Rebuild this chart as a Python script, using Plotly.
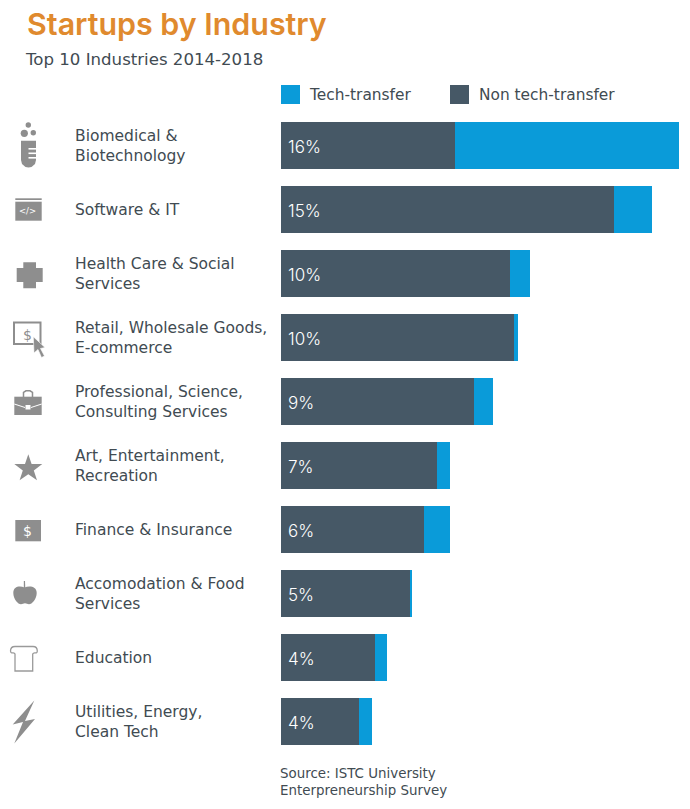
import plotly.graph_objects as go

categories = ["Biomedical &<br>Biotechnology", "Software & IT", "Health Care & Social<br>Services",
              "Retail, Wholesale Goods,<br>E-commerce", "Professional, Science,<br>Consulting Services",
              "Art, Entertainment,<br>Recreation", "Finance & Insurance", "Accomodation & Food<br>Services",
              "Education", "Utilities, Energy,<br>Clean Tech"]
non_tech_transfer = [7.0, 13.4, 9.2, 9.37, 7.75, 6.27, 5.75, 5.18, 3.78, 3.15]
tech_transfer = [9.0, 1.52, 0.8, 0.16, 0.77, 0.52, 1.05, 0.09, 0.48, 0.5]
share_labels = ["16%", "15%", "10%", "10%", "9%", "7%", "6%", "5%", "4%", "4%"]

W, H = 690, 809
FONT = "DejaVu Sans"
DARK, BLUE, ICON, TEXT = "#465866", "#0A9BD9", "#8E8E8E", "#414B52"
def px(x): return x / W
def py(y): return 1 - y / H

fig = go.Figure()
fig.add_bar(y=categories, x=non_tech_transfer, orientation="h", marker=dict(color=DARK, line_width=0), name="Non tech-transfer")
fig.add_bar(y=categories, x=tech_transfer, orientation="h", marker=dict(color=BLUE, line_width=0), name="Tech-transfer")

ann = []
def text(x, y, s, size, color=TEXT, anchor="left", family=FONT, weight=None):
    f = dict(family=family, size=size, color=color)
    if weight: f["weight"] = weight
    ann.append(dict(x=px(x), y=py(y), xref="paper", yref="paper", text=s, showarrow=False, xanchor=anchor, yanchor="middle",
                    align="left", font=f, borderpad=0))

text(25.5, 24, "Startups by Industry", 30.4, "#E08A2E", family="Inter", weight=600)
text(23.5, 60, "Top 10 Industries 2014-2018", 16.6)
text(307.5, 95, "Tech-transfer", 15.4)
text(477.5, 95, "Non tech-transfer", 15.4)
text(279, 782, "Source: ISTC University<br>Enterpreneurship Survey", 13.4)
for c, s in zip(categories, share_labels):
    ann.append(dict(x=px(74), y=c, xref="paper", yref="y", text=c, showarrow=False, xanchor="left", yanchor="middle", align="left",
                    borderpad=0, yshift=-0.5, font=dict(family=FONT, size=15.5, color=TEXT)))
    ann.append(dict(x=0, y=c, xref="x", yref="y", text=s, showarrow=False, xanchor="left", xshift=5, yshift=-2, yanchor="middle",
                    font=dict(family="Inter", size=17, color="#FFFFFF", weight=300)))
# glyphs inside icons
text(28, 211, "&lt;/&gt;", 8.5, "#FFFFFF", "center")
text(27, 335, "$", 14, ICON, "center")
text(28, 530.5, "$", 14, "#FFFFFF", "center")

shapes = []
def path(d, fill=ICON, line=None, lw=0):
    shapes.append(dict(type="path", xref="paper", yref="paper", path=d, fillcolor=fill, line=dict(color=line or fill, width=lw), layer="above"))
def poly(pts, **kw):
    path("M " + " L ".join(f"{px(x):.5f},{py(y):.5f}" for x, y in pts) + " Z", **kw)
def rect(x0, y0, x1, y1, fill=ICON, line=None, lw=0):
    shapes.append(dict(type="rect", xref="paper", yref="paper", x0=px(x0), x1=px(x1), y0=py(y0), y1=py(y1),
                       fillcolor=fill, line=dict(color=line or fill, width=lw), layer="above"))
def circle(cx, cy, r, fill=ICON):
    shapes.append(dict(type="circle", xref="paper", yref="paper", x0=px(cx-r), x1=px(cx+r), y0=py(cy-r), y1=py(cy+r),
                       fillcolor=fill, line_width=0, layer="above"))

# legend swatches
rect(281, 85, 300, 104, BLUE)
rect(450, 85, 469, 104, DARK)
# test tube
circle(28.3, 125, 2.7); circle(24.3, 133.3, 3.6); circle(33.3, 132.8, 2.7)
poly([(21, 140.7), (36, 140.7), (36, 160), (35, 164), (31.5, 167), (28.5, 167.5), (25.5, 167), (22, 164), (21, 160)])
for y in (148, 152.5, 157): rect(28.5, y, 36, y + 1.6, "#FFFFFF")
# window
rect(15.3, 198.3, 41.7, 200); rect(15.3, 201.7, 41.7, 220.7)
# cross
poly([(23.3, 262.3), (36, 262.3), (36, 268), (42.7, 268), (42.7, 282), (36, 282), (36, 288.3), (23.3, 288.3), (23.3, 282), (16.7, 282), (16.7, 268), (23.3, 268)])
# screen and cursor
rect(14, 322.5, 40.5, 344, "rgba(0,0,0,0)", ICON, 2)
poly([(33.3, 336.7), (45, 347.5), (40.5, 348.5), (44.5, 356), (41.5, 357.5), (38, 349.5), (34, 353)], line="#FFFFFF", lw=0.6)
# briefcase
rect(14.3, 396.7, 41.7, 415)
path(f"M {px(23.5):.5f},{py(397):.5f} L {px(23.5):.5f},{py(392.5):.5f} L {px(26):.5f},{py(390.8):.5f} L {px(30):.5f},{py(390.8):.5f} L {px(32.5):.5f},{py(392.5):.5f} L {px(32.5):.5f},{py(397):.5f}", fill="rgba(0,0,0,0)", line=ICON, lw=1.5)
poly([(14.3, 403.5), (25, 407), (25, 408), (14.3, 404.5)], fill="#FFFFFF")
poly([(41.7, 403.5), (31, 407), (31, 408), (41.7, 404.5)], fill="#FFFFFF")
rect(25.5, 405, 30.5, 409.5, "#FFFFFF")
# star
poly([(28.3, 454.3), (31.6, 463.9), (42.3, 463.9), (33.8, 470.4), (37, 480.3), (28.3, 474.2), (19.6, 480.3), (22.8, 470.4), (14.3, 463.9), (25, 463.9)])
# finance
rect(15.3, 520, 41, 541.3)
# apple
path(f"M {px(24.5):.5f},{py(587.5):.5f} C {px(20):.5f},{py(585.5):.5f} {px(13.3):.5f},{py(586):.5f} {px(13.3):.5f},{py(593):.5f} "
     f"C {px(13.3):.5f},{py(599):.5f} {px(18):.5f},{py(604.3):.5f} {px(21):.5f},{py(604.3):.5f} C {px(22.5):.5f},{py(604.3):.5f} {px(23.5):.5f},{py(603.3):.5f} {px(25):.5f},{py(603.3):.5f} "
     f"C {px(26.5):.5f},{py(603.3):.5f} {px(27.5):.5f},{py(604.3):.5f} {px(29):.5f},{py(604.3):.5f} C {px(32):.5f},{py(604.3):.5f} {px(36.7):.5f},{py(599):.5f} {px(36.7):.5f},{py(593):.5f} "
     f"C {px(36.7):.5f},{py(586):.5f} {px(29):.5f},{py(585.5):.5f} {px(24.5):.5f},{py(587.5):.5f} Z")
poly([(23.8, 581), (25, 581), (25.3, 588), (23.8, 588)])
# column
path(f"M {px(15):.5f},{py(671):.5f} L {px(15):.5f},{py(654):.5f} C {px(14):.5f},{py(651):.5f} {px(11):.5f},{py(655):.5f} {px(10.5):.5f},{py(651):.5f} "
     f"C {px(10.5):.5f},{py(647):.5f} {px(13):.5f},{py(646.5):.5f} {px(15):.5f},{py(646.5):.5f} L {px(33):.5f},{py(646.5):.5f} "
     f"C {px(35):.5f},{py(646.5):.5f} {px(37.3):.5f},{py(647):.5f} {px(37.3):.5f},{py(651):.5f} C {px(37):.5f},{py(655):.5f} {px(34):.5f},{py(651):.5f} {px(32.7):.5f},{py(654):.5f} "
     f"L {px(32.7):.5f},{py(671):.5f} Z", fill="rgba(0,0,0,0)", line="#9A9A9A", lw=1.3)
# bolt
poly([(34.3, 700.5), (12.7, 724.5), (23, 722), (14.3, 743.5), (35, 719), (25, 721)])

fig.update_layout(
    width=W, height=H, margin=dict(l=0, r=0, t=0, b=0), paper_bgcolor="#FFFFFF", plot_bgcolor="#FFFFFF",
    barmode="stack", bargap=1 - 47 / 64, showlegend=False, annotations=ann, shapes=shapes,
    xaxis=dict(domain=[px(281), px(679)], range=[0, 16], visible=False, fixedrange=True),
    yaxis=dict(domain=[py(753), py(113)], type="category", categoryorder="array", categoryarray=categories[::-1],
               visible=False, fixedrange=True),
)
fig.write_html("out.html", post_script="document.body.style.margin='0';", config=dict(displayModeBar=False))
